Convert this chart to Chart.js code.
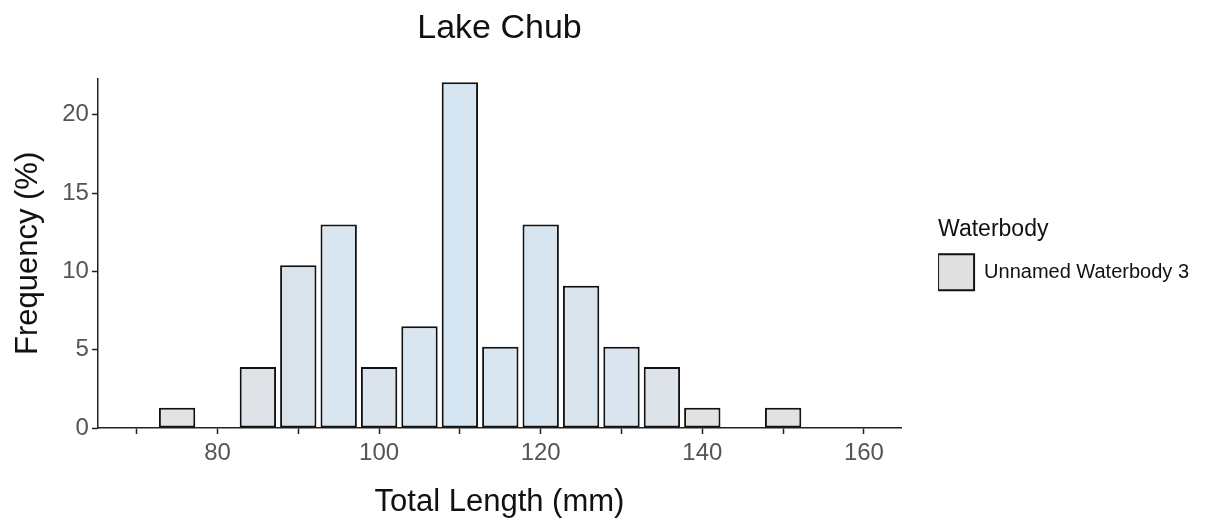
<!DOCTYPE html>
<html>
<head>
<meta charset="utf-8">
<script src="https://cdn.jsdelivr.net/npm/chart.js@4"></script>
<style>
  html, body { margin: 0; padding: 0; background: #fff; }
  #wrap { width: 1208px; height: 525px; }
</style>
</head>
<body>
<div id="wrap"><canvas id="chart"></canvas></div>
<script>
// Lake Chub length frequency (% of fish per 5 mm bin)
const binCentres = [75, 85, 90, 95, 100, 105, 110, 115, 120, 125, 130, 135, 140, 150];
const frequency = [1.3, 3.9, 10.39, 12.99, 3.9, 6.49, 22.08, 5.19, 12.99, 9.09, 5.19, 3.9, 1.3, 1.3];
const barColours = ['#e3e3e3', '#dfe3e7', '#dbe3ea', '#d9e5ef', '#dbe4ec', '#d9e5ef', '#d6e5f2',
  '#d9e5ef', '#d7e5f1', '#dae4ec', '#d9e4ee', '#dde3e8', '#e2e2e2', '#e2e2e2'];
const xTicks = [70, 80, 90, 100, 110, 120, 130, 140, 150, 160];
const yTicks = [0, 5, 10, 15, 20];

Chart.defaults.font.family = '"Liberation Sans", Arial, sans-serif';
Chart.defaults.color = '#555';

// title centred over the plot panel, legend pushed a bit off the panel (ggplot style)
const ggLayout = {
  id: 'ggLayout',
  afterLayout: (chart) => {
    const t = chart.titleBlock;
    t.left = chart.chartArea.left;
    t.right = chart.chartArea.right;
    t.width = t.right - t.left;
    chart.legend.left += 37;
    chart.legend.right += 37;
  },
};

let ctx = document.getElementById('chart').getContext('2d');

new Chart(ctx, {
  type: 'bar',
  data: {
    datasets: [
      {
        label: 'Unnamed Waterbody 3',
        data: binCentres.map((b, i) => ({ x: b, y: frequency[i] })),
        backgroundColor: barColours,
        borderColor: '#111',
        borderWidth: 2,
        borderSkipped: false,
        barPercentage: 0.9,
        categoryPercentage: 1,
      },
    ],
  },
  options: {
    responsive: true,
    maintainAspectRatio: false,
    animation: false,
    layout: { padding: { left: 0, right: 46, top: 0, bottom: 0 } },
    scales: {
      x: {
        type: 'linear',
        offset: false,
        min: 65.2,
        max: 164.6,
        afterBuildTicks: (axis) => {
          axis.ticks = xTicks.map((v) => ({ value: v }));
        },
        ticks: {
          autoSkip: false,
          maxRotation: 0,
          padding: 5,
          font: { size: 24 },
          color: '#555',
          callback: (v) => (v % 20 === 0 ? v : ''),
        },
        grid: { display: true, offset: false, drawOnChartArea: false, tickLength: 6, color: '#222', tickWidth: 1.5 },
        border: { display: true, color: '#222', width: 1.5 },
        title: {
          display: true,
          text: 'Total Length (mm)',
          color: '#111',
          font: { size: 31 },
          padding: { top: 11, bottom: 4 },
        },
      },
      y: {
        min: 0,
        max: 22.3,
        afterBuildTicks: (axis) => {
          axis.ticks = yTicks.map((v) => ({ value: v }));
        },
        ticks: { padding: 3, font: { size: 24 }, color: '#555' },
        grid: { display: true, drawOnChartArea: false, tickLength: 6, color: '#222', tickWidth: 1.5 },
        border: { display: true, color: '#222', width: 1.5 },
        title: {
          display: true,
          text: 'Frequency (%)',
          color: '#111',
          font: { size: 31 },
          padding: { top: 10, bottom: 12 },
        },
      },
    },
    plugins: {
      title: {
        display: true,
        text: 'Lake Chub',
        color: '#111',
        font: { size: 34, weight: 'normal' },
        padding: { top: 8, bottom: 30 },
      },
      legend: {
        display: true,
        position: 'right',
        align: 'center',
        fullSize: false,
        title: {
          display: true,
          text: 'Waterbody',
          color: '#111',
          position: 'start',
          font: { size: 23 },
          padding: { top: 2, bottom: 8 },
        },
        labels: {
          boxWidth: 36,
          boxHeight: 36,
          padding: 0,
          color: '#111',
          font: { size: 20 },
          generateLabels: (chart) => [
            {
              text: chart.data.datasets[0].label,
              fillStyle: '#e0e0e0',
              strokeStyle: '#111',
              lineWidth: 2,
              datasetIndex: 0,
            },
          ],
        },
      },
      tooltip: { enabled: false },
    },
  },
  plugins: [ggLayout],
});
</script>
</body>
</html>
